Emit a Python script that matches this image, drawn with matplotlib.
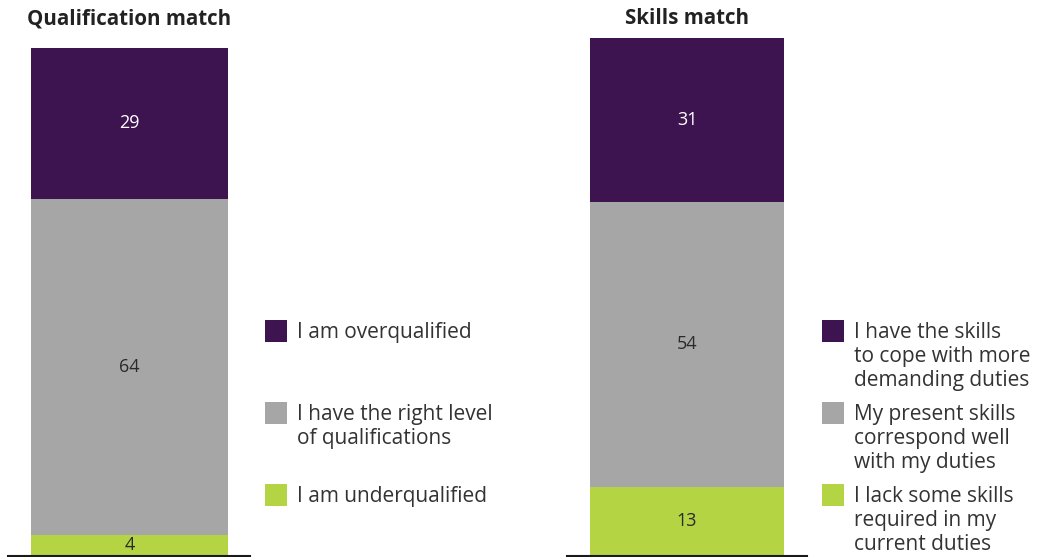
import matplotlib
matplotlib.use("Agg")
import matplotlib.pyplot as plt
from matplotlib.patches import Rectangle

plt.rcParams['font.family'] = ['Open Sans', 'DejaVu Sans']

W, H = 1040, 557

# Data (percent), stacked from bottom to top
panel_titles = ["Qualification match", "Skills match"]
qual_values = [4, 64, 29]
skill_values = [13, 54, 31]
qual_labels = ["I am underqualified",
               "I have the right level\nof qualifications",
               "I am overqualified"]
skill_labels = ["I lack some skills\nrequired in my\ncurrent duties",
                "My present skills\ncorrespond well\nwith my duties",
                "I have the skills\nto cope with more\ndemanding duties"]

colors = ["#b5d444", "#a6a6a6", "#3e1450"]
value_colors = ["#2a2a2a", "#2a2a2a", "#ffffff"]
text_color = "#333333"

fig = plt.figure(figsize=(W / 100, H / 100), dpi=100)

def px_axes(x0, x1, y_top, y_bottom):
    return fig.add_axes([x0 / W, 1 - y_bottom / H, (x1 - x0) / W, (y_bottom - y_top) / H])

# axes span: (left px, right px, bar left px, bar right px, px per percent)
panels = [
    (8, 250, 31, 228, 5.237, qual_values, qual_labels, 265),
    (567, 807, 590, 784, 5.276, skill_values, skill_labels, 822),
]
y_bottom = 555.5
for (ax_l, ax_r, b_l, b_r, scale, vals, labels, leg_x), title in zip(panels, panel_titles):
    ax = px_axes(ax_l, ax_r, y_bottom - 100 * scale, y_bottom)
    bw = b_r - b_l
    ax.set_xlim(-0.5 - (b_l - ax_l) / bw, 0.5 + (ax_r - b_r) / bw)
    ax.set_ylim(0, 100)
    bottom = 0
    for v, c, vc in zip(vals, colors, value_colors):
        ax.bar(0, v, width=1, bottom=bottom, color=c, linewidth=0)
        ax.text(0, bottom + v / 2, str(v), ha="center", va="center",
                fontsize=13, color=vc)
        bottom += v
    for s in ["top", "left", "right"]:
        ax.spines[s].set_visible(False)
    ax.spines["bottom"].set_linewidth(1.5)
    ax.spines["bottom"].set_color("#1a1a1a")
    ax.set_xticks([])
    ax.set_yticks([])
    fig.text((b_l + b_r) / 2 / W, 1 - 19 / H, title, ha="center", va="center",
             fontsize=14.8, fontweight="bold", color="#222222")

    # legend: purple top, gray middle, green bottom
    leg_y = [495, 413, 331]  # square centers in px from top (green, gray, purple)
    for lab, c, yc in zip(labels, colors, leg_y):
        fig.patches.append(Rectangle((leg_x / W, 1 - (yc + 11) / H), 22 / W, 22 / H,
                                     transform=fig.transFigure, color=c, linewidth=0))
        for i, line in enumerate(lab.split("\n")):
            fig.text((leg_x + 32) / W, 1 - (yc + 1.5 + 24 * i) / H, line, ha="left",
                     va="center", fontsize=15, color=text_color)

fig.savefig("out.png", dpi=100)
